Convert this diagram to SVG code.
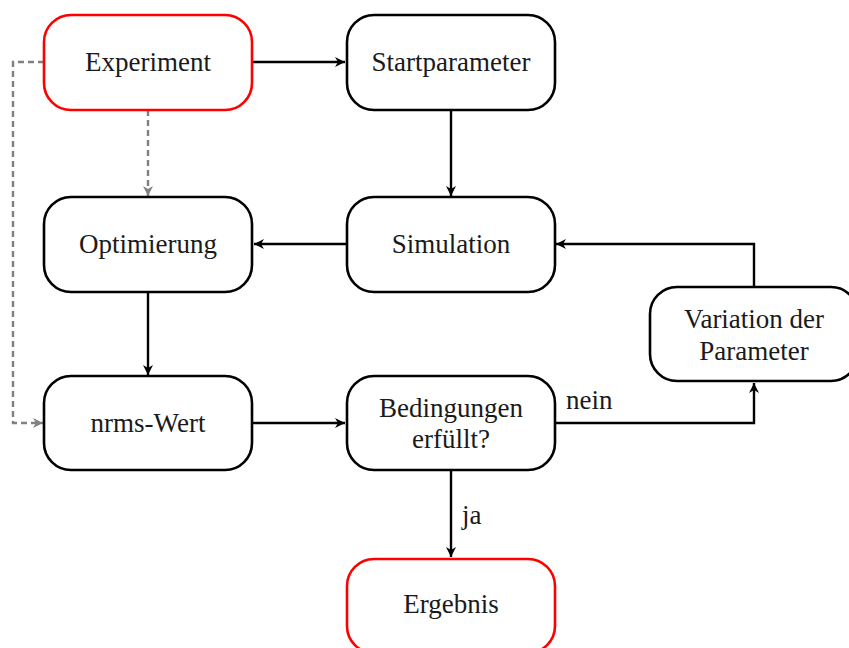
<svg xmlns="http://www.w3.org/2000/svg" width="849" height="648" viewBox="0 0 849 648">
<style>
.box{fill:#fff;stroke:#000;stroke-width:2.6}
.red{stroke:#f00}
text{font-family:"Liberation Serif","DejaVu Serif","Times New Roman",serif;font-size:27px;fill:#1a1a1a}
.t{text-anchor:middle}
.c{fill:none;stroke:#000;stroke-width:2.4}
.d{fill:none;stroke:#808080;stroke-width:2.4;stroke-dasharray:6,4}
</style>
<defs>
<marker id="a" markerWidth="12" markerHeight="10" refX="10" refY="5" orient="auto" markerUnits="userSpaceOnUse">
<path d="M0,0 L10,5 L0,10 L3,5 Z" fill="#000"/>
</marker>
<marker id="g" markerWidth="12" markerHeight="10" refX="10" refY="5" orient="auto" markerUnits="userSpaceOnUse">
<path d="M0,0 L10,5 L0,10 L3,5 Z" fill="#808080"/>
</marker>
</defs>
<g id="connectors">
<path class="c" d="M253,62 H345" marker-end="url(#a)"/>
<path class="c" d="M451,110 V196" marker-end="url(#a)"/>
<path class="c" d="M347,244 H254" marker-end="url(#a)"/>
<path class="c" d="M148,292 V375" marker-end="url(#a)"/>
<path class="c" d="M253,423 H345" marker-end="url(#a)"/>
<path class="c" d="M451,470 V557" marker-end="url(#a)"/>
<path class="c" d="M555,423 H754 V383" marker-end="url(#a)"/>
<path class="c" d="M754,287 V244 H556" marker-end="url(#a)"/>
<path class="d" d="M44,62 H13 V423 H43" marker-end="url(#g)"/>
<path class="d" d="M148,110 V196" marker-end="url(#g)"/>
<text x="566" y="409">nein</text>
<text x="462" y="524">ja</text>
</g>
<g id="experiment"><rect class="box red" x="44" y="15" width="208" height="95" rx="27"/><text class="t" x="148" y="71">Experiment</text></g>
<g id="startparameter"><rect class="box" x="347" y="15" width="208" height="95" rx="27"/><text class="t" x="451" y="71">Startparameter</text></g>
<g id="optimierung"><rect class="box" x="44" y="197" width="208" height="95" rx="27"/><text class="t" x="148" y="253">Optimierung</text></g>
<g id="simulation"><rect class="box" x="347" y="197" width="208" height="95" rx="27"/><text class="t" x="451" y="253">Simulation</text></g>
<g id="nrms"><rect class="box" x="44" y="376" width="208" height="94" rx="27"/><text class="t" x="148" y="432">nrms-Wert</text></g>
<g id="bedingungen"><rect class="box" x="347" y="376" width="208" height="94" rx="27"/><text class="t" x="451" y="417">Bedingungen</text><text class="t" x="451" y="448">erfüllt?</text></g>
<g id="variation"><rect class="box" x="650" y="287" width="208" height="94" rx="27"/><text class="t" x="754" y="328">Variation der</text><text class="t" x="754" y="360">Parameter</text></g>
<g id="ergebnis"><rect class="box red" x="347" y="559" width="208" height="94" rx="27"/><text class="t" x="451" y="613">Ergebnis</text></g>
</svg>
